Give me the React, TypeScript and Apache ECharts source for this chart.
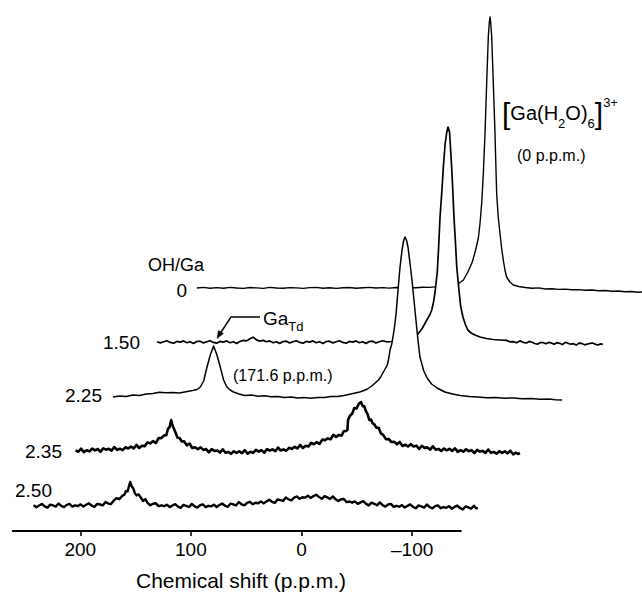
import React, { useEffect, useRef } from "react";
import * as echarts from "echarts";

// ---- data: [chemical shift (p.p.m.), intensity (arb.)] ----
const ratioLabels = ["0", "1.50", "2.25", "2.35", "2.50"];

const ohGa0: number[][] = [
  [265,0],[259,0.6],[253,-0.3],[247,0.4],[241,-0.2],[235,0.6],[229,0],[223,-0.4],[217,0.5],[211,0.1],[205,-0.4],[199,0.6],[193,0],[187,-0.3],[181,0.4],[175,0.1],[169,-0.4],[163,0.4],[157,0.6],[151,-0.2],[145,0.3],[139,-0.4],[133,0.2],[127,0.5],[121,-0.2],[115,0.3],[109,0.6],[103,0],[97,0.4],[91,-0.1],[85,0.5],[79,0.1],[73,0.5],[67,0.3],[61,0.7],[55,0.6],[49,1.1],[43,1.6],[37,2.4],[33,3],[29,4],[24,8],[20,16],[16,26],[13,38],[10.5,50],[9,65],[7.5,85],[6,115],[4.5,155],[3,205],[1.5,252],[0.6,266],[0,271],[-0.6,266],[-1.5,252],[-3,205],[-4.5,155],[-6,95],[-7.5,70],[-9,55],[-10.5,40],[-12,28],[-13.5,18],[-15,11],[-18,6],[-21,3],[-26,1.5],[-32,0.5],[-38,-0.3],[-44,0.1],[-50,-1],[-56,-0.7],[-62,-1.4],[-68,-1.1],[-74,-1.8],[-80,-1.6],[-86,-2.3],[-92,-2],[-98,-2.7],[-104,-2.5],[-110,-3.3],[-116,-3],[-122,-3.8],[-128,-3.5],[-134,-4.2],[-140,-3.9],[-146,-4.5]
];

const ohGa150: number[][] = [
  [264,0.3],[261,-0.9],[258,0.2],[255,1.3],[252,-0.4],[249,-1.2],[246,0.6],[243,-0.1],[240,1.1],[237,-0.7],[234,0.3],[231,-1.4],[228,0.5],[225,0.8],[222,-0.9],[219,0.2],[216,1.3],[213,-0.4],[210,-1.2],[207,0.6],[204,-0.1],[201,1.1],[198,-0.7],[195,0.3],[192,-1.4],[189,0.5],[186,1.6],[183,1.1],[180,3.2],[177,4.8],[174,2.1],[171,0.8],[168,1.6],[165,0.2],[162,1.1],[159,-0.7],[156,0.3],[153,-1.4],[150,0.5],[147,0.8],[144,-0.9],[141,0.2],[138,1.3],[135,-0.4],[132,-1.2],[129,0.6],[126,-0.1],[123,1.1],[120,-0.7],[117,0.3],[114,-1.4],[111,0.5],[108,0.8],[105,-0.9],[102,0.2],[99,1.3],[96,-0.4],[93,-1.2],[90,0.6],[87,-0.1],[84,1.1],[81,-0.7],[78,0.3],[75,-1.4],[72,0.5],[69,0.8],[66,-0.9],[63,0.2],[60,1.3],[56,0.1],[52,0.5],[48,2],[44,2.5],[40,3.5],[35,5],[31,6],[28,8],[24,14],[20,22],[17,28],[15.6,32],[14,40],[12.6,50],[10.6,70],[9.5,92],[8.1,125],[6.5,150],[5.1,175],[3.5,198],[2,210],[0.9,215],[-0.5,210],[-2.4,175],[-3.5,150],[-4.5,125],[-5.8,100],[-7,75],[-9,52],[-10.5,36],[-12.6,25],[-15,17],[-17,12],[-20,9],[-23.5,7],[-28,5],[-34,3.5],[-40,2.5],[-46,2],[-52,1.6],[-55,0.2],[-58,0.4],[-61,-0.8],[-64,1.1],[-67,-0.3],[-70,-1],[-72.5,0.6],[-75,-0.2],[-77.5,-1.5],[-80,-2.2],[-82.5,-0.6],[-85,-0.5],[-87.5,-1.8],[-90,-0.4],[-92.5,-0.9],[-95,-2.3],[-97.5,-0.7],[-100,-1.3],[-102.5,-2.6],[-105,-0.3],[-107.5,-1.2],[-110,-2.2],[-112.5,-1.7],[-115,-3.1],[-117.5,-1.1],[-120,-1.4],[-122.5,-2.8],[-125,-2.2],[-127.5,-1.3],[-130,-1.1],[-132.5,-2.4],[-135,-3],[-137,-1.8],[-139,-2.3]
];

const ohGa225: number[][] = [
  [264,-2],[258,-1],[252,-1.5],[246,0],[240,-0.5],[234,1],[228,1.6],[222,2.8],[216,2.2],[210,2.6],[204,2],[198,3.2],[192,4.5],[188,5.5],[185,8],[182,14],[179,28],[176,40],[173,49],[170,40],[167,28],[164,15],[161,8],[158,5],[155,3],[150,1],[145,-0.5],[139,0],[133,-1.2],[127,-0.8],[121,-1.8],[115,-1.4],[109,-2.4],[103,-2],[97,-3],[91,-2.6],[85,-3.2],[79,-2.4],[73,-2.6],[67,-1.6],[61,-1.4],[55,-0.4],[50,0.8],[45,2],[41,3],[37,4.5],[34,6],[30,9],[27,12],[24,15],[22,18],[20,22],[18,26],[16,30],[14.5,38],[13.5,45],[12,51],[11,57],[9.5,68],[8,82],[6.3,105],[4.5,128],[2.7,145],[1.3,154],[0,158],[-1.3,155],[-2.7,148],[-4.5,132],[-6.3,115],[-9,85],[-11.7,55],[-13.5,38],[-17,24],[-20,17],[-24,11],[-29,7],[-36,3],[-43,1],[-50,-0.5],[-58,-1.5],[-66,-2],[-74,-2.8],[-82,-2.4],[-90,-3.2],[-98,-3],[-106,-3.8],[-114,-3.4],[-122,-4.2],[-130,-4],[-136,-4.8],[-142,-5]
];

const ohGa235: number[][] = [
  [258,0.5],[255.5,-0.7],[253,2.3],[250.5,-1.1],[248,0.8],[245.5,-0.4],[243,2.4],[240.5,0.6],[238,2],[235.5,-0.8],[233,2.7],[230.5,1.3],[228,2.2],[225.5,0.4],[223,4],[220.5,1.1],[218,2.3],[215.5,0.9],[213,3.7],[210.5,2.5],[208,4.4],[205.5,2.7],[203,6],[200.5,3],[198,5.3],[195.5,4.9],[193,8.6],[190.5,7.6],[188,9.9],[185.5,8],[183,12.9],[180.5,12.8],[178,15.6],[176,15.7],[174.5,22.2],[173,24],[171.6,31],[170.5,26],[169,22],[167.5,18.1],[166,13.4],[164,13],[162,9.5],[160,9.7],[157.5,5.7],[155,7.5],[152.5,3],[150,3.8],[147.5,1.9],[145,3.6],[142.5,1.1],[140,1.9],[137.5,-1.3],[135,1.9],[132.5,0],[130,0.6],[127.5,-1.6],[125,1.7],[122.5,-1.7],[120,-0.9],[117.5,-2.8],[115,-0.3],[112.5,-1.9],[110,-0.3],[107.5,-2.2],[105,0.8],[102.5,-2.6],[100,-0.7],[97.5,-1.9],[95,1.1],[92.5,-0.7],[90,0.9],[87.5,-1.8],[85,1.9],[82.5,0.5],[80,1.6],[77.5,-0.2],[75,3.4],[72.5,0.5],[70,1.6],[67.5,0.3],[65,3.2],[62.5,2.1],[60,4.2],[57.5,2.7],[55,6],[52.5,3],[50,5.3],[47.5,4.6],[45,8.1],[42.5,6.8],[40,8.9],[37.5,7],[35,11.4],[32.5,10.8],[30,12.6],[27.5,11.7],[25,16.2],[22.5,14.1],[20,16.1],[17.5,15.4],[15.5,20],[13.5,20],[12.3,21],[11.7,31],[10,35.2],[8,37.2],[6,43],[4,42.5],[2,47.3],[0,49],[-1.5,44.9],[-3,44.6],[-4.5,39.6],[-6,36.9],[-7.5,31],[-9,31.4],[-10.5,27.8],[-12,26.6],[-14,23.2],[-16,23.2],[-18,17.6],[-20,16.1],[-22.5,11.9],[-25,12],[-27.5,9],[-30,9.2],[-32.5,6.7],[-35,9],[-37.5,5],[-40,6.3],[-42.5,4.5],[-45,6.8],[-47.5,4.4],[-50,5.4],[-52.5,2.1],[-55,5.1],[-57.5,3.1],[-60,3.6],[-62.5,1.4],[-65,4.7],[-67.5,1.3],[-70,2.1],[-72.5,0.1],[-75,2.5],[-77.5,0.7],[-80,2.2],[-82.5,0.1],[-85,2.7],[-87.5,-0.9],[-90,0.8],[-92.5,-0.7],[-95,1.8],[-97.5,-0.3],[-100,0.9],[-102.5,-2.1],[-105,1.2],[-107.5,-0.6],[-110,0.1],[-112.5,-1.9],[-115,1.5],[-117.5,-1.8],[-120,-0.9],[-122.5,-2.7],[-125,-0.2],[-127.5,-1.9],[-130,-0.3],[-132.5,-2.4],[-135,0.3],[-137.5,-3.3],[-140,-1.6],[-142,-3],[-143.6,-2]
];

const ohGa250: number[][] = [
  [258,0.9],[255.5,-1.3],[253,0.5],[250.5,2],[248,-0.4],[245.5,-1.65],[243,1.4],[240.5,0.55],[238,-0.6],[235.5,2.5],[233,0.15],[230.5,-1.1],[228,1.2],[225.5,2.05],[223,-0.6],[220.5,0.65],[218,0],[215.5,1.65],[213,-0.6],[210.5,1.25],[208,2.7],[205.5,0.3],[203,-0.95],[200.5,2.1],[198,1.5],[195.5,0.6],[193,4.1],[190.5,2.4],[188,1.9],[185.5,5.5],[183,7.8],[180.5,6.8],[178,10],[176,11.3],[174.5,14.9],[173,14.6],[172,19],[170.7,24],[169.5,20],[168,17.8],[166.5,12.9],[165,10.6],[163,11.6],[161,8.2],[159,5],[157,6.9],[155,3.2],[152.5,0.7],[150,2.2],[147.5,2.7],[145,-0.2],[142.5,0.7],[140,-0.2],[137.5,1.3],[135,-1.1],[132.5,0.5],[130,1.8],[127.5,-0.6],[125,-1.9],[122.5,1.1],[120,0.2],[117.5,-1],[115,2.1],[112.5,-0.3],[110,-1.6],[107.5,0.75],[105,1.6],[102.5,-1.05],[100,0.2],[97.5,-0.4],[95,1.25],[92.5,-0.95],[90,0.9],[87.5,2.5],[85,0.3],[82.5,-0.8],[80,2.3],[77.5,1.6],[75,0.6],[72.5,3.9],[70,1.7],[67.5,0.6],[65,3.2],[62.5,4.2],[60,1.8],[57.5,3.2],[55,2.8],[52.5,4.6],[50,2.6],[47.5,4.6],[45,6.3],[42.5,4.2],[40,3.1],[37.5,6.5],[35,5.9],[32.5,5.1],[30,8.6],[27.5,6.6],[25,5.6],[22.5,8.3],[20,9.5],[17.5,7.2],[15,8.7],[12.5,8.4],[10,10.4],[7.5,8.1],[5,9.9],[2.5,11.3],[0,8.9],[-2.5,7.2],[-5,9.9],[-7.5,8.6],[-10,7],[-12.5,9.6],[-15,6.7],[-17.5,4.9],[-20,6.7],[-22.5,7],[-25,3.8],[-27.5,4.5],[-30,3.3],[-32.5,4.6],[-35,2.1],[-37.5,3.6],[-40,4.8],[-42.5,2.1],[-45,0.6],[-47.5,3.3],[-50,2.2],[-52.5,0.7],[-55,3.6],[-57.5,0.9],[-60,-0.6],[-62.5,1.5],[-65,2.1],[-67.5,-0.8],[-70,0.2],[-72.5,-0.7],[-75,0.85],[-77.5,-1.5],[-80,0.2],[-82.5,1.55],[-85,-0.9],[-87.5,-2.3],[-90,0.6],[-92.5,-0.35],[-95,-1.6],[-97.5,1.45],[-100,-1],[-102.5,-2.35],[-105,-0.1],[-107.5,0.6],[-110,-2.2],[-112.5,-1.05],[-115,-1.8],[-117.5,-0.25],[-120,-2.65],[-122.5,-0.9],[-125,0.45],[-127.5,-2],[-130,-3.4],[-132.5,-0.45],[-135,-1.45],[-137.5,-2.7],[-140,0.3],[-142,-2.2],[-143.6,-2]
];

const spectra = [ohGa0, ohGa150, ohGa225, ohGa235, ohGa250];
const axisTicks = [200, 100, 0, -100];
const axisMin = -144;
const axisMax = 261;
const specMin = -150;
const specMax = 270;
const intensityMin = -20;
const intensityMax = 280;

// ---- layout (pixels) ----
const W = 642;
const H = 594;
const PX_PER_PPM = 1.1062;
const AXIS_LEFT = 12.8;
const AXIS_Y = 531;
const baseY = [288, 342, 395, 451, 506];
const zeroX = [490, 449, 405, 361, 319];
const lineWidths = [1.4, 1.7, 1.5, 2.6, 2.4];
const FONT = '"Liberation Sans", Arial, sans-serif';

function fmtTick(v: number) {
  return v < 0 ? "\u2013" + Math.abs(v) : String(v);
}

export default function App() {
  const ref = useRef<HTMLDivElement>(null);

  useEffect(() => {
    if (!ref.current) return;
    const chart = echarts.init(ref.current, null, { renderer: "svg" });

    const grids: any[] = [
      {
        left: AXIS_LEFT,
        width: (axisMax - axisMin) * PX_PER_PPM,
        top: AXIS_Y - 200,
        height: 200,
        outerBoundsMode: "none",
      },
    ];
    const xAxes: any[] = [
      {
        gridIndex: 0,
        type: "value",
        min: axisMin,
        max: axisMax,
        inverse: true,
        z: 20,
        axisLine: { show: true, onZero: false, lineStyle: { color: "#000", width: 2 } },
        axisTick: { show: true, length: 5, customValues: axisTicks, lineStyle: { color: "#000", width: 1.6 } },
        axisLabel: {
          customValues: axisTicks,
          formatter: fmtTick,
          color: "#000",
          fontSize: 19,
          fontFamily: FONT,
          margin: 9,
        },
        splitLine: { show: false },
      },
    ];
    const yAxes: any[] = [{ gridIndex: 0, type: "value", show: false, min: 0, max: 1 }];
    const series: any[] = [];

    spectra.forEach((data, i) => {
      const g = i + 1;
      grids.push({
        left: zeroX[i] - specMax * PX_PER_PPM,
        width: (specMax - specMin) * PX_PER_PPM,
        top: baseY[i] - intensityMax,
        height: intensityMax - intensityMin,
        outerBoundsMode: "none",
      });
      xAxes.push({ gridIndex: g, type: "value", min: specMin, max: specMax, inverse: true, show: false });
      yAxes.push({ gridIndex: g, type: "value", min: intensityMin, max: intensityMax, show: false });
      series.push({
        name: ratioLabels[i],
        type: "line",
        xAxisIndex: g,
        yAxisIndex: g,
        data,
        symbol: "none",
        showSymbol: false,
        silent: true,
        z: 2 + i,
        lineStyle: { color: "#000", width: lineWidths[i], join: "round" },
        areaStyle: { color: "#fff", opacity: 1, origin: "start" },
        emphasis: { disabled: true },
      });
    });

    const txt = (text: string, x: number, y: number, size: number, align: string) => ({
      type: "text",
      x,
      y,
      z: 100,
      style: {
        text,
        fill: "#000",
        fontSize: size,
        fontFamily: FONT,
        textAlign: align,
        textVerticalAlign: "middle",
      },
    });

    const labelRight = [187, 140, 102, 62, 52];
    const labelY = [290, 342, 395, 451, 490];

    const graphic: any[] = [
      txt("OH/Ga", 148, 265, 18, "left"),
      ...ratioLabels.map((l, i) => txt(l, labelRight[i], labelY[i], 19, "right")),
      txt("(171.6 p.p.m.)", 233, 375, 16, "left"),
      txt("(0 p.p.m.)", 517, 155, 16, "left"),
      txt("Chemical shift (p.p.m.)", 241, 580, 21, "center"),
      {
        type: "text",
        x: 263,
        y: 318,
        z: 100,
        style: {
          text: "{m|Ga}{s|Td}",
          fill: "#000",
          textVerticalAlign: "middle",
          rich: {
            m: { fontSize: 19, fontFamily: FONT, lineHeight: 30, fill: "#000" },
            s: { fontSize: 13, fontFamily: FONT, lineHeight: 13, verticalAlign: "bottom", fill: "#000" },
          },
        },
      },
      {
        type: "text",
        x: 502,
        y: 113,
        z: 100,
        style: {
          text: "{b|[}{m|Ga(H}{s|2}{m|O)}{s|6}{b|]}{p|3+}",
          fill: "#000",
          textVerticalAlign: "middle",
          rich: {
            b: { fontSize: 30, fontFamily: FONT, lineHeight: 34, fill: "#000" },
            m: { fontSize: 20, fontFamily: FONT, lineHeight: 22, fill: "#000" },
            s: { fontSize: 13, fontFamily: FONT, lineHeight: 13, verticalAlign: "bottom", fill: "#000" },
            p: { fontSize: 13, fontFamily: FONT, lineHeight: 19, verticalAlign: "top", fill: "#000" },
          },
        },
      },
      {
        type: "polyline",
        z: 100,
        shape: { points: [[260, 317], [231, 317], [220.5, 333]] },
        style: { stroke: "#000", lineWidth: 1.4, fill: null },
      },
      {
        type: "polygon",
        z: 100,
        shape: { points: [[217, 338.5], [223.5, 333.5], [218.5, 330.5]] },
        style: { fill: "#000", stroke: "#000", lineWidth: 0.5 },
      },
    ];

    chart.setOption({
      animation: false,
      backgroundColor: "#fff",
      grid: grids,
      xAxis: xAxes,
      yAxis: yAxes,
      series,
      graphic,
    });

    return () => chart.dispose();
  }, []);

  return (
    <div
      ref={ref}
      style={{ position: "absolute", left: 0, top: 0, width: W, height: H, background: "#fff" }}
    />
  );
}
